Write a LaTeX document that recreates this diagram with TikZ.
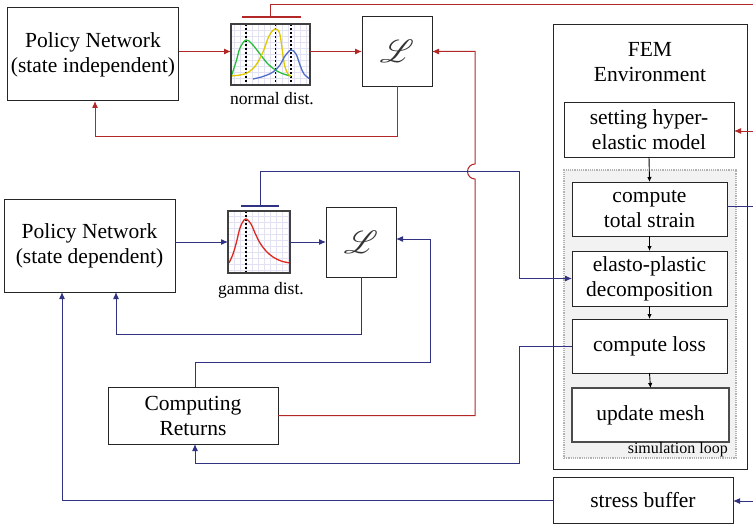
\documentclass[tikz,border=0pt]{standalone}
\usepackage{fontspec}
\setmainfont{Liberation Serif}
\usepackage{mathrsfs}
\usetikzlibrary{arrows.meta}

\definecolor{rline}{RGB}{178,40,40}
\definecolor{bline}{RGB}{50,50,130}
\definecolor{gridc}{RGB}{226,226,242}
\definecolor{ngreen}{RGB}{40,190,60}
\definecolor{nyellow}{RGB}{225,200,0}
\definecolor{nblue}{RGB}{80,110,200}
\definecolor{gred}{RGB}{225,40,30}

\tikzset{
  box/.style={draw=black!85, line width=1pt, fill=white, align=center,
    inner sep=0pt, outer sep=0pt, font=\fontsize{21.5}{25}\selectfont},
  plotbox/.style={draw=black!75, line width=1.6pt, fill=white, inner sep=0pt, outer sep=0pt},
  lossbox/.style={box, minimum width=70pt, minimum height=70pt},
  redwire/.style={draw=rline, line width=1pt},
  bluewire/.style={draw=bline, line width=1pt},
  redarrow/.style={redwire, -{Latex[length=7pt,width=6pt]}},
  bluearrow/.style={bluewire, -{Latex[length=7pt,width=6pt]}},
  flowarrow/.style={draw=black, line width=0.9pt, -{Latex[length=5pt,width=4.5pt]}},
  meanline/.style={draw=black, line width=1.3pt, dash pattern=on 2pt off 2pt},
  capbar/.style={line width=1.8pt},
  caption/.style={inner sep=0pt, font=\fontsize{17.5}{20}\selectfont},
  losssym/.style={text=black!80, scale=3.2, inner sep=0pt}
}

\begin{document}
\begin{tikzpicture}[x=1pt,y=-1pt]
\useasboundingbox (0,0) rectangle (753,527);

% ---------- upper branch: state independent policy ----------
\node[box, minimum width=171pt, minimum height=93pt] (pn1) at (93,54.5)
  {Policy Network\\(state independent)};

\node[plotbox, minimum width=79pt, minimum height=61pt] (nd) at (270.5,54.5) {};
\begin{scope}
  \clip (231,24) rectangle (310,85);
  \draw[gridc, line width=0.5pt] (225,18) grid[step=6pt] (316,91);
  \draw[meanline] (246,24) -- (246,85);
  \draw[meanline] (275.5,24) -- (275.5,85);
  \draw[meanline] (291,24) -- (291,85);
  \draw[ngreen, line width=1.3pt] plot[smooth, tension=0.6] coordinates
    {(231,77) (236,62) (240,48) (246,40) (252,44) (260,54) (268,64) (277,71) (285,74.5) (291,76)};
  \draw[nyellow, line width=1.3pt] plot[smooth, tension=0.6] coordinates
    {(231,76) (240,75) (248,72.5) (256,65) (263,52) (269,36) (275,29) (279.5,33) (282,48) (284.5,65) (288,74) (291,76)};
  \draw[nblue, line width=1.3pt] plot[smooth, tension=0.6] coordinates
    {(253,79) (263,76.5) (273,72) (280,65) (285,56) (291,50) (296,54) (300,65) (304,74) (310,79)};
\end{scope}
\draw[plotbox, fill=none] (nd.south west) rectangle (nd.north east);
\node[caption, anchor=base] (ndlabel) at (272,105) {normal dist.};

\node[lossbox] (l1) at (397,51.5) {};
\node[losssym] (l1sym) at (l1.center) {$\mathscr{L}$};

% ---------- lower branch: state dependent policy ----------
\node[box, minimum width=171pt, minimum height=93pt] (pn2) at (89.5,245.5)
  {Policy Network\\(state dependent)};

\node[plotbox, minimum width=62pt, minimum height=62pt] (gd) at (259,242) {};
\begin{scope}
  \clip (228,211) rectangle (290,273);
  \draw[gridc, line width=0.5pt] (222,205) grid[step=6pt] (296,279);
  \draw[meanline] (246,211) -- (246,273);
  \draw[gred, line width=1.3pt] plot[smooth, tension=0.6] coordinates
    {(229,263) (233,254) (236.5,242) (240,228) (244,220) (247,219.5) (251,224) (255,233) (260,243) (266,251) (273,257) (281,261) (290,263)};
\end{scope}
\draw[plotbox, fill=none] (gd.south west) rectangle (gd.north east);
\node[caption, anchor=base] (gdlabel) at (261,294) {gamma dist.};

\node[lossbox] (l2) at (361,242) {};
\node[losssym] (l2sym) at (l2.center) {$\mathscr{L}$};

\node[box, minimum width=170pt, minimum height=57pt] (cr) at (193,415.5)
  {Computing\\Returns};

% ---------- FEM environment ----------
\node[box, minimum width=194pt, minimum height=444pt] (fem) at (650,247) {};
\node[align=center, inner sep=0pt, font=\fontsize{21.5}{25}\selectfont] (femtitle) at (650,62)
  {FEM\\Environment};
\node[box, minimum width=170pt, minimum height=54pt] (hyper) at (649,130)
  {setting hyper-\\elastic model};

\node[draw=black!30, fill=black!5, line width=2.2pt, dash pattern=on 1.2pt off 1pt,
  minimum width=172pt, minimum height=288pt, inner sep=0pt] (loop) at (650,314) {};
\node[box, minimum width=155pt, minimum height=54pt] (strain) at (649.5,209)
  {compute\\total strain};
\node[box, minimum width=155pt, minimum height=55pt] (decomp) at (649.5,278.5)
  {elasto-plastic\\decomposition};
\node[box, minimum width=155pt, minimum height=54pt] (loss) at (649.5,346)
  {compute loss};
\node[box, draw=black!70, line width=2pt, minimum width=157pt, minimum height=54pt] (mesh) at (650.5,415)
  {update mesh};
\node[inner sep=0pt, anchor=base east, font=\fontsize{16}{16}\selectfont] (looplabel) at (728,453)
  {simulation loop};

\node[box, minimum width=180pt, minimum height=46pt] (buffer) at (643,500)
  {stress buffer};

% free ends at the right border
\coordinate (edgeA) at (753,5);
\coordinate (edgeB) at (753,131);
\coordinate (edgeC) at (753,206);
\coordinate (edgeD) at (753,501);

% ---------- flow inside the environment ----------
\draw[flowarrow] (hyper.south) -- (strain.north);
\draw[flowarrow] (strain.south) -- (decomp.north);
\draw[flowarrow] (decomp.south) -- (loss.north);
\draw[flowarrow] (loss.south) -- (mesh.north);

% ---------- red connectors ----------
\draw[redarrow] (pn1.east |- l1.west) -- (nd.west |- l1.west);
\draw[redarrow] (nd.east |- l1.west) -- (l1.west);
\draw[redarrow] (l1.south) -- ++(0,50) -| ([xshift=2pt]pn1.south);
\draw[redwire, capbar] (242,17) -- (301,17);
\draw[redwire] (270,17) -- (270,5) -- (edgeA);
\draw[redarrow] (cr.east) -- (475,415.5) -- (475,179)
  arc[start angle=270, end angle=90, radius=7.5pt] -- (475,51.5) -- (l1.east);
\draw[redarrow] (edgeB) -- (hyper.east |- edgeB);

% ---------- blue connectors ----------
\draw[bluearrow] (pn2.east |- gd.west) -- (gd.west);
\draw[bluearrow] (gd.east) -- (l2.west);
\draw[bluewire, capbar] (241,206) -- (279,206);
\draw[bluearrow] (260,206) -- (260,171) -- (519,171) |- (decomp.west);
\draw[bluearrow] (l2.south) -- ++(0,57) -| ([xshift=26.5pt]pn2.south);
\draw[bluearrow] ([xshift=2pt]cr.north) |- (430,362) |- ([yshift=3pt]l2.east);
\draw[bluearrow] (loss.west) -- (519,346) -- (519,463) -| ([xshift=2pt]cr.south);
\draw[bluearrow] (buffer.west) -| ([xshift=-27.5pt]pn2.south);
\draw[bluewire] ([yshift=3pt]strain.east) -- (edgeC);
\draw[bluearrow] (edgeD) -- (buffer.east |- edgeD);
\end{tikzpicture}
\end{document}
